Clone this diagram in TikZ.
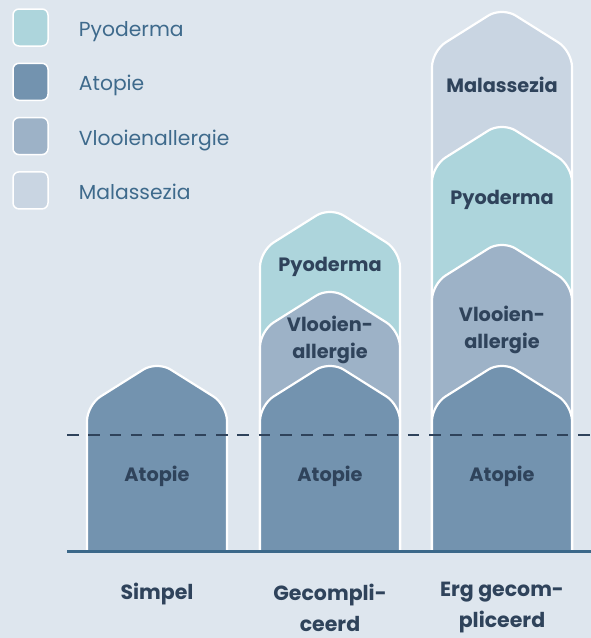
\documentclass[tikz,border=0pt]{standalone}
\usepackage{fontspec}
\setmainfont{Poppins}
\usetikzlibrary{positioning}
\definecolor{bgcol}{HTML}{DEE6EE}
\definecolor{pyocol}{HTML}{ADD5DC}
\definecolor{atocol}{HTML}{7393AF}
\definecolor{vlocol}{HTML}{9DB2C7}
\definecolor{malcol}{HTML}{C9D5E2}
\definecolor{inkcol}{HTML}{2F435B}
\definecolor{legcol}{HTML}{3E6A8C}
\definecolor{axiscol}{HTML}{3B6889}
\tikzset{
    legbox/.style={draw=white, line width=1.5pt, rounded corners=6pt, minimum width=35pt, minimum height=37pt, inner sep=0pt}, % legenda-vakje
    legtext/.style={anchor=base west, inner sep=0pt, text=legcol, font=\fontsize{20.3}{24}\selectfont}, % legenda-tekst
    layer/.style={draw=white, line width=2.2pt, rounded corners=16pt}, % een laag van de stapel
    lbl/.style={text=inkcol, align=center, font=\bfseries\fontsize{19.3}{27}\selectfont}, % tekst in de lagen
    catlbl/.style={text=inkcol, align=center, inner sep=1pt, font=\bfseries\fontsize{20.5}{31}\selectfont} % tekst onder de as
}

\begin{document}
\begin{tikzpicture}[x=1pt, y=-1pt]
    \fill[bgcol] (0,0) rectangle (591,638);
    \useasboundingbox (0,0) rectangle (591,638);

    \foreach \nm/\col/\txt [count=\i] in {pyo/pyocol/Pyoderma, ato/atocol/Atopie, vlo/vlocol/Vlooienallergie, mal/malcol/Malassezia} {
        \node[legbox, fill=\col] (leg\nm) at (30.5,{27.5+54.3*(\i-1)}) {};
        \node[legtext] (legt\nm) at ([xshift=30pt, yshift=-9pt]leg\nm.east) {\txt};
    }

    \foreach \xc/\ap/\col in {330/207/pyocol, 502/7/malcol, 502/122/pyocol, 330/287/vlocol, 502/240/vlocol, 157/361/atocol, 330/361/atocol, 502/361/atocol}
        \filldraw[layer, fill=\col] (\xc-70,551) -- (\xc-70,\ap+44) -- (\xc,\ap) -- (\xc+70,\ap+44) -- (\xc+70,551);

    \draw[axiscol, line width=3pt] (67,551) -- (591,551);
    \draw[inkcol, line width=2.8pt, dash pattern=on 11.5pt off 9.8pt] (67,435) -- (591,435);

    \node[lbl] (ato1) at (157,476) {Atopie};
    \node[lbl] (ato2) at (330,476) {Atopie};
    \node[lbl] (ato3) at (502,476) {Atopie};
    \node[lbl] (vlo2) at (330,340) {Vlooien-\\allergie};
    \node[lbl] (vlo3) at (502,330) {Vlooien-\\allergie};
    \node[lbl] (pyo2) at (330,267) {Pyoderma};
    \node[lbl] (pyo3) at (502,200) {Pyoderma};
    \node[lbl] (mal3) at (502,85) {Malassezia};

    \node[catlbl] (simpel) at (157,594) {Simpel};
    \node[catlbl] (gecomp) at (330,608) {Gecompli-\\ceerd};
    \node[catlbl] (erg) at (502,608) {Erg gecom-\\pliceerd};
\end{tikzpicture}
\end{document}
